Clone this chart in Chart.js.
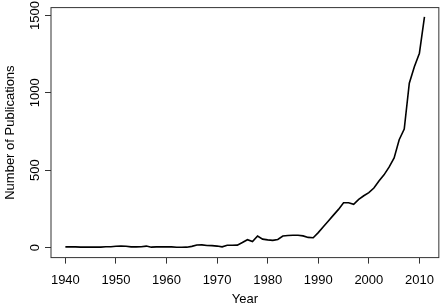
<!DOCTYPE html>
<html>
<head>
<meta charset="utf-8">
<script src="https://cdn.jsdelivr.net/npm/chart.js@4/dist/chart.umd.min.js"></script>
<style>
  html, body { margin: 0; padding: 0; background: #fff; }
  #wrap { width: 443px; height: 307px; }
</style>
</head>
<body>
<div id="wrap"><canvas id="c" width="443" height="307"></canvas></div>
<script>
const years = [
  1940, 1941, 1942, 1943, 1944, 1945, 1946, 1947, 1948, 1949,
  1950, 1951, 1952, 1953, 1954, 1955, 1956, 1957, 1958, 1959,
  1960, 1961, 1962, 1963, 1964, 1965, 1966, 1967, 1968, 1969,
  1970, 1971, 1972, 1973, 1974, 1975, 1976, 1977, 1978, 1979,
  1980, 1981, 1982, 1983, 1984, 1985, 1986, 1987, 1988, 1989,
  1990, 1991, 1992, 1993, 1994, 1995, 1996, 1997, 1998, 1999,
  2000, 2001, 2002, 2003, 2004, 2005, 2006, 2007, 2008, 2009,
  2010, 2011
];
const publications = [
  5, 5, 5, 3, 3, 3, 3, 3, 6, 6,
  9, 10, 9, 5, 5, 6, 10, 3, 5, 5,
  5, 5, 2, 2, 3, 8, 17, 18, 14, 13,
  10, 5, 15, 15, 16, 33, 51, 39, 75, 55,
  50, 47, 53, 75, 78, 80, 80, 76, 66, 64,
  97, 135, 172, 210, 247, 290, 290, 280, 312, 335,
  355, 385, 430, 470, 520, 580, 697, 766, 1062, 1169,
  1256, 1491
];
const xTicks = [1940, 1950, 1960, 1970, 1980, 1990, 2000, 2010];
const yTicks = [0, 500, 1000, 1500];
const xTitle = "Year";
const yTitle = "Number of Publications";

const FONT = '"Liberation Sans", Arial, Helvetica, sans-serif';

const rPlot = {
  id: 'rPlot',
  afterDraw(chart) {
    const { ctx, chartArea: a, scales: { x, y } } = chart;
    ctx.save();
    ctx.strokeStyle = '#333';
    ctx.lineWidth = 1;
    ctx.strokeRect(a.left, a.top, a.right - a.left, a.bottom - a.top);
    ctx.fillStyle = '#000';
    ctx.font = '13px ' + FONT;
    ctx.textAlign = 'center';
    ctx.textBaseline = 'middle';
    yTicks.forEach(v => {
      const py = y.getPixelForValue(v);
      ctx.save();
      ctx.translate(35, py);
      ctx.rotate(-Math.PI / 2);
      ctx.fillText(String(v), 0, 0);
      ctx.restore();
    });
    ctx.fillText(xTitle, (a.left + a.right) / 2, 299);
    ctx.save();
    ctx.translate(10, (a.top + a.bottom) / 2);
    ctx.rotate(-Math.PI / 2);
    ctx.fillText(yTitle, 0, 0);
    ctx.restore();
    ctx.restore();
  }
};

new Chart(document.getElementById('c'), {
  type: 'line',
  data: {
    datasets: [{
      data: years.map((yr, i) => ({ x: yr, y: publications[i] })),
      borderColor: '#000',
      borderWidth: 1.6,
      pointRadius: 0,
      tension: 0,
      fill: false
    }]
  },
  options: {
    responsive: false,
    animation: false,
    devicePixelRatio: 1,
    layout: { padding: { top: 7.6, right: 2.5, left: 0, bottom: 0 } },
    plugins: { legend: { display: false }, tooltip: { enabled: false } },
    scales: {
      x: {
        type: 'linear',
        min: 1937.16,
        max: 2013.84,
        afterBuildTicks: s => { s.ticks = xTicks.map(v => ({ value: v })); },
        afterFit: s => { s.height = 49.4; },
        grid: { drawOnChartArea: false, drawTicks: true, tickLength: 6, color: '#333', lineWidth: 1 },
        border: { display: false },
        ticks: {
          color: '#000',
          font: { family: FONT, size: 13 },
          padding: 9,
          maxRotation: 0,
          autoSkip: false,
          callback: v => String(v)
        }
      },
      y: {
        type: 'linear',
        min: -64.4,
        max: 1550.6,
        afterBuildTicks: s => { s.ticks = yTicks.map(v => ({ value: v })); },
        afterFit: s => { s.width = 51; },
        grid: { drawOnChartArea: false, drawTicks: true, tickLength: 6, color: '#333', lineWidth: 1 },
        border: { display: false },
        ticks: { display: true, padding: 0, callback: () => '' }
      }
    }
  },
  plugins: [rPlot]
});
</script>
</body>
</html>
